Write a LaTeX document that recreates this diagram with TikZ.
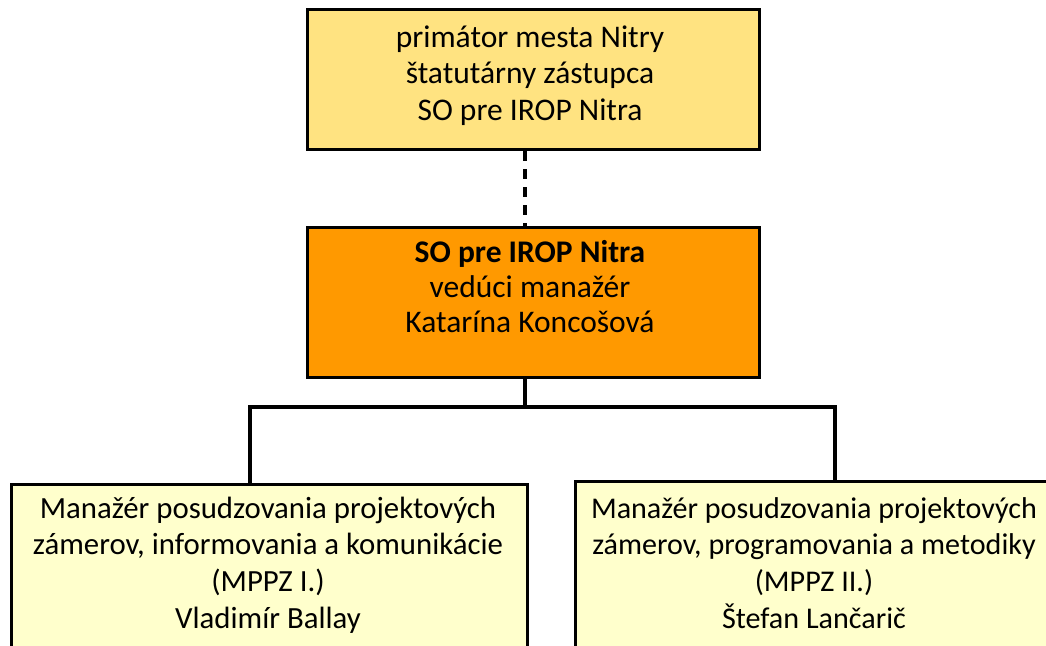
\documentclass[tikz,border=0pt]{standalone}
\usepackage{fontspec}
\setmainfont{Carlito}
\definecolor{topfill}{HTML}{FFE381}
\definecolor{midfill}{HTML}{FF9900}
\definecolor{subfill}{HTML}{FFFFCC}
\tikzset{
  boxnode/.style={draw=black, line width=3.2pt, rectangle, inner sep=0pt, anchor=north west},
  txtnode/.style={anchor=base, inner sep=0pt},
  conn/.style={line width=3.2pt, black},
  dconn/.style={conn, dash pattern=on 10pt off 8pt}
}
\begin{document}
\begin{tikzpicture}[x=1pt,y=-1pt]
\useasboundingbox (0,0) rectangle (1046,645);
\clip (0,0) rectangle (1046,645);
% boxes
\node[boxnode, fill=topfill, minimum width=452pt, minimum height=140pt] (top) at (306,8) {};
\node[boxnode, fill=midfill, minimum width=452pt, minimum height=150pt] (mid) at (306,226) {};
\node[boxnode, fill=subfill, minimum width=516pt, minimum height=220pt] (bl) at (10,483) {};
\node[boxnode, fill=subfill, minimum width=482pt, minimum height=220pt] (br) at (574,480) {};
% texts
\node[txtnode] (ttop) at (530,47) {\parbox[t]{440pt}{\centering\fontsize{31.5}{36.5}\selectfont primátor mesta Nitry\\štatutárny zástupca\\SO pre IROP Nitra}};
\node[txtnode] (tmid) at (530,262) {\parbox[t]{440pt}{\centering\fontsize{31.5}{35}\selectfont \textbf{SO pre IROP Nitra}\\vedúci manažér\\Katarína Koncošová}};
\node[txtnode] (tbl) at (268,518) {\parbox[t]{510pt}{\centering\fontsize{30.8}{36.7}\selectfont Manažér posudzovania projektových\\zámerov, informovania a komunikácie\\(MPPZ I.)\\Vladimír Ballay}};
\node[txtnode] (tbr) at (814,518) {\parbox[t]{480pt}{\centering\fontsize{30.1}{36.7}\selectfont Manažér posudzovania projektových\\zámerov, programovania a metodiky\\(MPPZ II.)\\Štefan Lančarič}};
% connector helpers
\coordinate (trunk) at (525,0);
\coordinate (bus) at (0,407);
\coordinate (lx) at (250,0);
\coordinate (rx) at (835,0);
\draw[dconn] (top.south -| trunk) -- (mid.north -| trunk);
\draw[conn] (mid.south -| trunk) -- (bus -| trunk);
\draw[conn] (bl.north -| lx) -- (bus -| lx) -- (bus -| rx) -- (br.north -| rx);
\end{tikzpicture}
\end{document}
